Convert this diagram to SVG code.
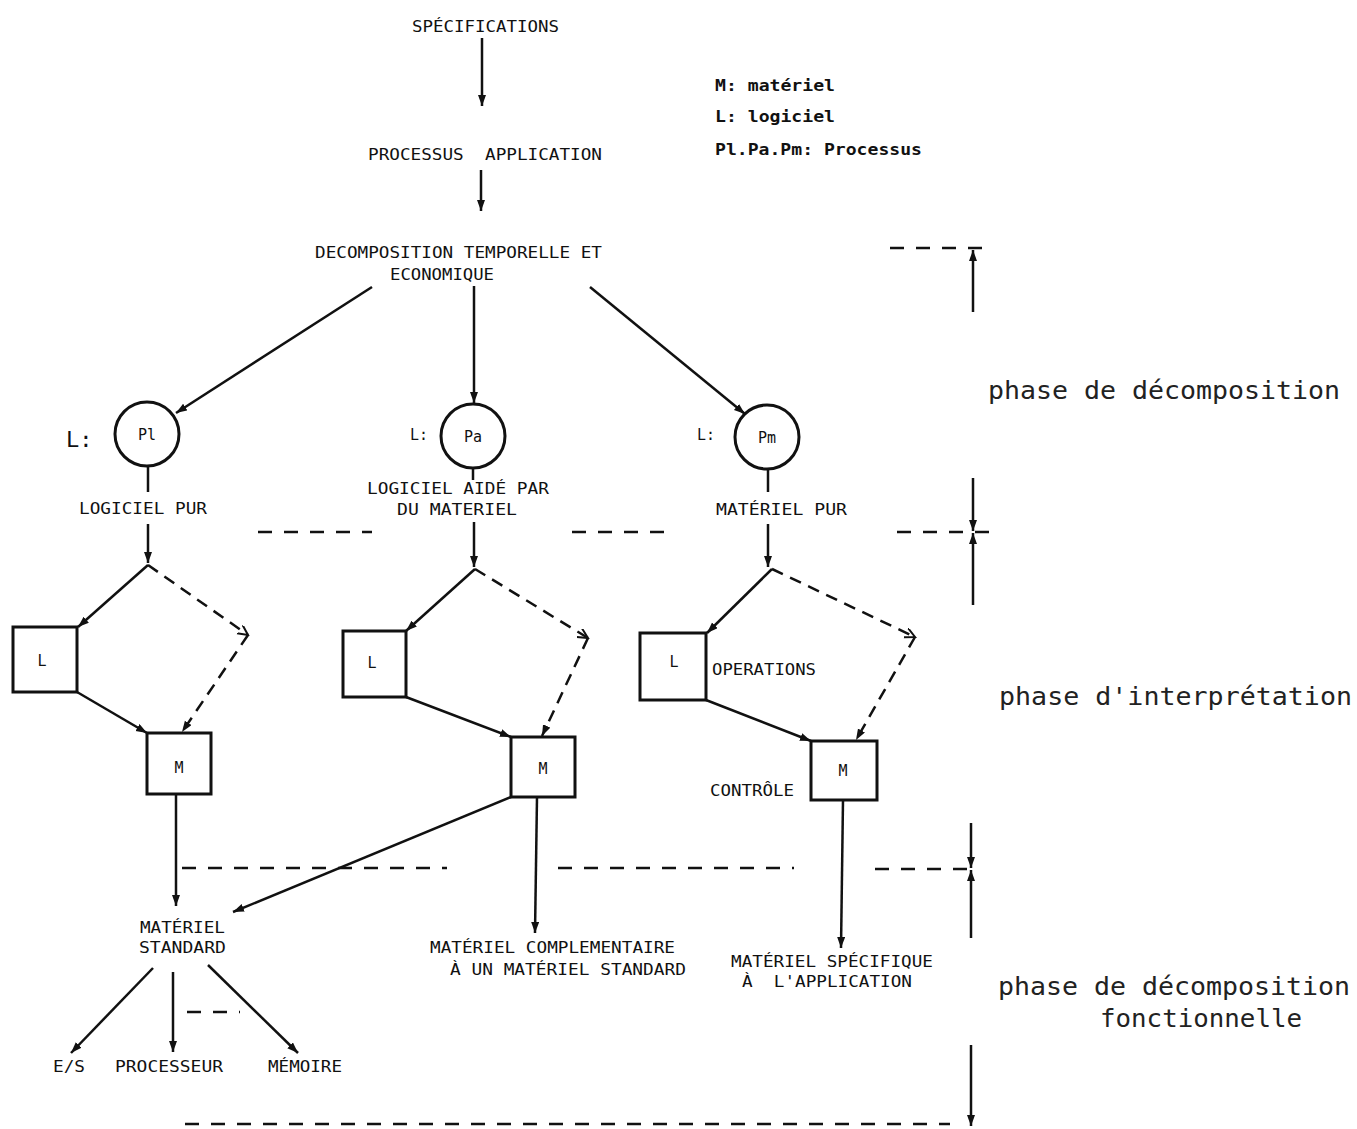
<svg xmlns="http://www.w3.org/2000/svg" width="1357" height="1129" viewBox="0 0 1357 1129">
<style>
.t{font-family:"DejaVu Sans Mono","Liberation Mono",monospace;font-size:15px;fill:#111}
.lg{font-family:"DejaVu Sans Mono","Liberation Mono",monospace;font-size:15px;font-weight:bold;fill:#111}
.ph{font-family:"DejaVu Sans Mono","Liberation Mono",monospace;font-size:24px;fill:#222}
.bx{fill:none;stroke:#111;stroke-width:3}
.c{fill:none;stroke:#111;stroke-width:3}
.ln{fill:none;stroke:#111;stroke-width:2.5}
.ds{fill:none;stroke:#111;stroke-width:2.5;stroke-dasharray:12 8}
.sep{fill:none;stroke:#111;stroke-width:2.5;stroke-dasharray:14 12}
</style>
<defs>
<marker id="ah" markerUnits="userSpaceOnUse" markerWidth="12" markerHeight="10" refX="11" refY="4" orient="auto">
<path d="M0,0 L11,4 L0,8 Z" fill="#111"/>
</marker>
<marker id="chev" markerUnits="userSpaceOnUse" markerWidth="12" markerHeight="12" refX="10" refY="5" orient="auto">
<path d="M0,0 L10,5 L0,10" fill="none" stroke="#111" stroke-width="2"/>
</marker>
</defs>
<rect width="1357" height="1129" fill="#fff"/>

<g id="specifications"><text class="t" x="412" y="32" textLength="147" lengthAdjust="spacingAndGlyphs">SPÉCIFICATIONS</text></g>
<g id="processus"><text class="t" x="368" y="160" textLength="234" lengthAdjust="spacingAndGlyphs" xml:space="preserve">PROCESSUS  APPLICATION</text></g>
<g id="decomposition">
<text class="t" x="315" y="258" textLength="287" lengthAdjust="spacingAndGlyphs">DECOMPOSITION TEMPORELLE ET</text>
<text class="t" x="390" y="280" textLength="104" lengthAdjust="spacingAndGlyphs">ECONOMIQUE</text>
</g>
<g id="legend">
<text class="lg" x="715" y="91" textLength="120" lengthAdjust="spacingAndGlyphs">M: matériel</text>
<text class="lg" x="715" y="122" textLength="120" lengthAdjust="spacingAndGlyphs">L: logiciel</text>
<text class="lg" x="715" y="155" textLength="207" lengthAdjust="spacingAndGlyphs">Pl.Pa.Pm: Processus</text>
</g>

<g id="node-pl">
<circle class="c" cx="147" cy="434" r="32"/>
<text class="t" x="147" y="440" text-anchor="middle">Pl</text>
<text class="t" x="66" y="447" style="font-size:22px">L:</text>
</g>
<g id="node-pa">
<circle class="c" cx="473" cy="436" r="32"/>
<text class="t" x="473" y="442" text-anchor="middle">Pa</text>
<text class="t" x="410" y="440" textLength="18" lengthAdjust="spacingAndGlyphs">L:</text>
</g>
<g id="node-pm">
<circle class="c" cx="767" cy="437" r="32"/>
<text class="t" x="767" y="443" text-anchor="middle">Pm</text>
<text class="t" x="697" y="440" textLength="18" lengthAdjust="spacingAndGlyphs">L:</text>
</g>

<g id="label-logiciel-pur"><text class="t" x="79" y="514" textLength="128" lengthAdjust="spacingAndGlyphs">LOGICIEL PUR</text></g>
<g id="label-logiciel-aide">
<text class="t" x="367" y="494" textLength="182" lengthAdjust="spacingAndGlyphs">LOGICIEL AIDÉ PAR</text>
<text class="t" x="397" y="515" textLength="120" lengthAdjust="spacingAndGlyphs">DU MATERIEL</text>
</g>
<g id="label-materiel-pur"><text class="t" x="716" y="515" textLength="131" lengthAdjust="spacingAndGlyphs">MATÉRIEL PUR</text></g>

<g id="box-l1"><rect class="bx" x="13" y="627" width="64" height="65"/><text class="t" x="42" y="666" text-anchor="middle">L</text></g>
<g id="box-m1"><rect class="bx" x="147" y="733" width="64" height="61"/><text class="t" x="179" y="773" text-anchor="middle">M</text></g>
<g id="box-l2"><rect class="bx" x="343" y="631" width="63" height="66"/><text class="t" x="372" y="668" text-anchor="middle">L</text></g>
<g id="box-m2"><rect class="bx" x="511" y="737" width="64" height="60"/><text class="t" x="543" y="774" text-anchor="middle">M</text></g>
<g id="box-l3"><rect class="bx" x="640" y="633" width="66" height="67"/><text class="t" x="674" y="667" text-anchor="middle">L</text></g>
<g id="box-m3"><rect class="bx" x="811" y="741" width="66" height="59"/><text class="t" x="843" y="776" text-anchor="middle">M</text></g>

<g id="label-operations"><text class="t" x="712" y="675" textLength="104" lengthAdjust="spacingAndGlyphs">OPERATIONS</text></g>
<g id="label-controle"><text class="t" x="710" y="796" textLength="84" lengthAdjust="spacingAndGlyphs">CONTRÔLE</text></g>

<g id="materiel-standard">
<text class="t" x="140" y="933" textLength="85" lengthAdjust="spacingAndGlyphs">MATÉRIEL</text>
<text class="t" x="139" y="953" textLength="87" lengthAdjust="spacingAndGlyphs">STANDARD</text>
</g>
<g id="materiel-complementaire">
<text class="t" x="430" y="953" textLength="245" lengthAdjust="spacingAndGlyphs">MATÉRIEL COMPLEMENTAIRE</text>
<text class="t" x="450" y="975" textLength="236" lengthAdjust="spacingAndGlyphs">À UN MATÉRIEL STANDARD</text>
</g>
<g id="materiel-specifique">
<text class="t" x="731" y="967" textLength="202" lengthAdjust="spacingAndGlyphs">MATÉRIEL SPÉCIFIQUE</text>
<text class="t" x="742" y="987" textLength="170" lengthAdjust="spacingAndGlyphs" xml:space="preserve">À  L'APPLICATION</text>
</g>
<g id="es"><text class="t" x="53" y="1072" textLength="32" lengthAdjust="spacingAndGlyphs">E/S</text></g>
<g id="processeur"><text class="t" x="115" y="1072" textLength="108" lengthAdjust="spacingAndGlyphs">PROCESSEUR</text></g>
<g id="memoire"><text class="t" x="268" y="1072" textLength="74" lengthAdjust="spacingAndGlyphs">MÉMOIRE</text></g>

<g id="phases">
<text class="ph" x="988" y="399" textLength="352" lengthAdjust="spacingAndGlyphs">phase de décomposition</text>
<text class="ph" x="999" y="705" textLength="353" lengthAdjust="spacingAndGlyphs">phase d'interprétation</text>
<text class="ph" x="998" y="995" textLength="352" lengthAdjust="spacingAndGlyphs">phase de décomposition</text>
<text class="ph" x="1100" y="1027" textLength="202" lengthAdjust="spacingAndGlyphs">fonctionnelle</text>
</g>

<g id="connectors">
<line class="ln" x1="482" y1="38" x2="482" y2="106" marker-end="url(#ah)"/>
<line class="ln" x1="481" y1="170" x2="481" y2="211" marker-end="url(#ah)"/>
<line class="ln" x1="372" y1="287" x2="176" y2="413" marker-end="url(#ah)"/>
<line class="ln" x1="474" y1="286" x2="474" y2="403" marker-end="url(#ah)"/>
<line class="ln" x1="590" y1="287" x2="745" y2="414" marker-end="url(#ah)"/>
<line class="ln" x1="148" y1="466" x2="148" y2="492"/>
<line class="ln" x1="148" y1="524" x2="148" y2="563" marker-end="url(#ah)"/>
<line class="ln" x1="473" y1="468" x2="473" y2="480"/>
<line class="ln" x1="474" y1="522" x2="474" y2="567" marker-end="url(#ah)"/>
<line class="ln" x1="768" y1="469" x2="768" y2="492"/>
<line class="ln" x1="768" y1="524" x2="768" y2="567" marker-end="url(#ah)"/>

<line class="ln" x1="148" y1="565" x2="78" y2="627" marker-end="url(#ah)"/>
<line class="ds" x1="148" y1="565" x2="248" y2="635" marker-end="url(#chev)"/>
<line class="ds" x1="248" y1="635" x2="182" y2="732" marker-end="url(#ah)"/>
<line class="ln" x1="77" y1="692" x2="147" y2="733" marker-end="url(#ah)"/>
<line class="ln" x1="176" y1="794" x2="176" y2="906" marker-end="url(#ah)"/>

<line class="ln" x1="475" y1="569" x2="406" y2="631" marker-end="url(#ah)"/>
<line class="ds" x1="475" y1="569" x2="588" y2="638" marker-end="url(#chev)"/>
<line class="ds" x1="588" y1="638" x2="542" y2="736" marker-end="url(#ah)"/>
<line class="ln" x1="406" y1="697" x2="511" y2="737" marker-end="url(#ah)"/>
<line class="ln" x1="537" y1="797" x2="535" y2="933" marker-end="url(#ah)"/>
<line class="ln" x1="511" y1="797" x2="233" y2="912" marker-end="url(#ah)"/>

<line class="ln" x1="772" y1="569" x2="707" y2="633" marker-end="url(#ah)"/>
<line class="ds" x1="772" y1="569" x2="915" y2="637" marker-end="url(#chev)"/>
<line class="ds" x1="915" y1="637" x2="856" y2="740" marker-end="url(#ah)"/>
<line class="ln" x1="706" y1="700" x2="811" y2="741" marker-end="url(#ah)"/>
<line class="ln" x1="843" y1="800" x2="841" y2="948" marker-end="url(#ah)"/>

<line class="ln" x1="153" y1="968" x2="71" y2="1053" marker-end="url(#ah)"/>
<line class="ln" x1="173" y1="972" x2="173" y2="1052" marker-end="url(#ah)"/>
<line class="ln" x1="208" y1="965" x2="298" y2="1053" marker-end="url(#ah)"/>
<line class="sep" x1="187" y1="1012" x2="240" y2="1012"/>

<line class="sep" x1="890" y1="248" x2="988" y2="248"/>
<line class="sep" x1="258" y1="532" x2="372" y2="532"/>
<line class="sep" x1="572" y1="532" x2="674" y2="532"/>
<line class="sep" x1="897" y1="532" x2="993" y2="532"/>
<line class="sep" x1="182" y1="868" x2="447" y2="868"/>
<line class="sep" x1="558" y1="868" x2="794" y2="868"/>
<line class="sep" x1="875" y1="869" x2="977" y2="869"/>
<line class="sep" x1="185" y1="1124" x2="950" y2="1124"/>

<line class="ln" x1="973" y1="312" x2="973" y2="250" marker-end="url(#ah)"/>
<line class="ln" x1="973" y1="478" x2="973" y2="531" marker-end="url(#ah)"/>
<line class="ln" x1="973" y1="605" x2="973" y2="533" marker-end="url(#ah)"/>
<line class="ln" x1="971" y1="823" x2="971" y2="868" marker-end="url(#ah)"/>
<line class="ln" x1="971" y1="938" x2="971" y2="870" marker-end="url(#ah)"/>
<line class="ln" x1="971" y1="1045" x2="971" y2="1126" marker-end="url(#ah)"/>
</g>
</svg>
